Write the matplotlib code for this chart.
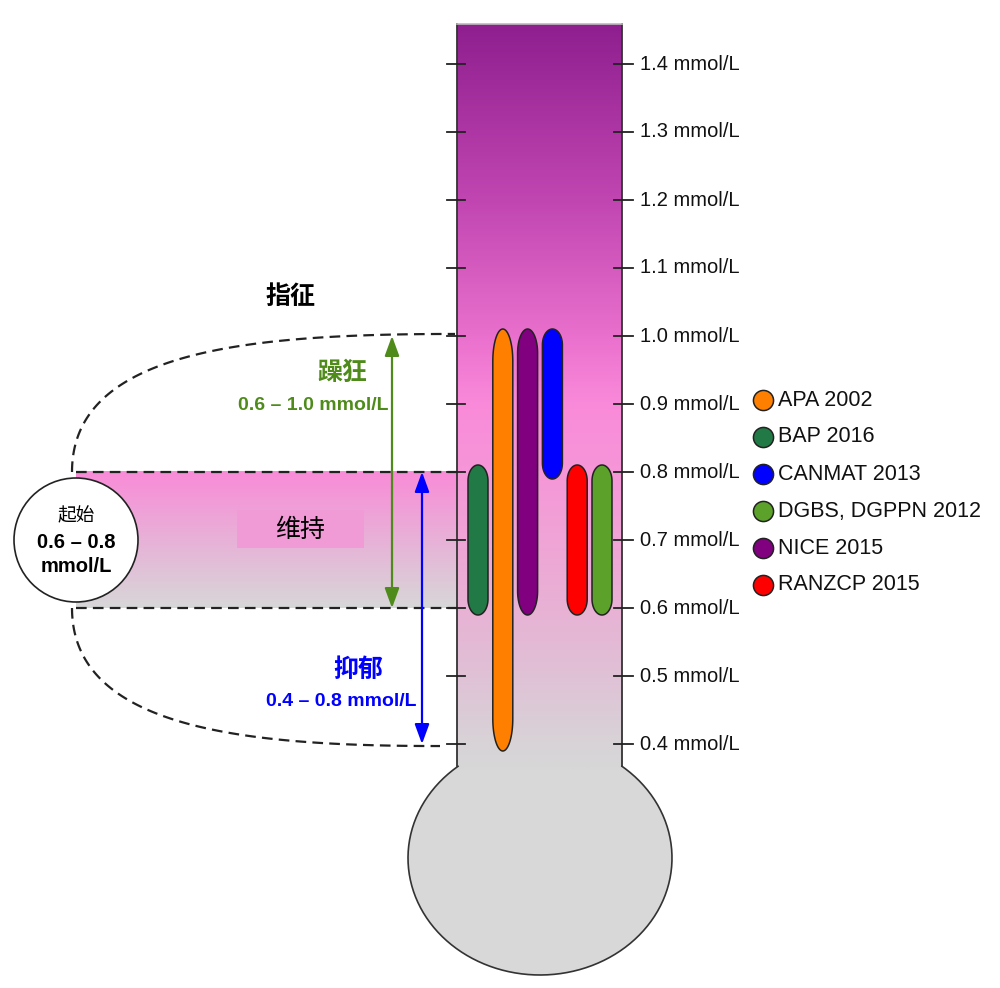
import numpy as np
import matplotlib
matplotlib.use('Agg')
import matplotlib.pyplot as plt
from matplotlib.patches import Ellipse, Polygon, Rectangle
from matplotlib.colors import LinearSegmentedColormap

plt.rcParams['font.family'] = ['Liberation Sans', 'Noto Sans CJK SC']

# guideline target ranges (mmol/L)
guidelines = ['APA 2002', 'BAP 2016', 'CANMAT 2013', 'DGBS, DGPPN 2012', 'NICE 2015', 'RANZCP 2015']
range_low = [0.4, 0.6, 0.8, 0.6, 0.6, 0.6]
range_high = [1.0, 0.8, 1.0, 0.8, 1.0, 0.8]
guide_colors = ['#FF8000', '#217A45', '#0000FF', '#5CA22A', '#800080', '#FF0000']
# left-to-right order of the bars inside the tube
bar_order = ['BAP 2016', 'APA 2002', 'NICE 2015', 'CANMAT 2013', 'RANZCP 2015', 'DGBS, DGPPN 2012']

tick_values = [0.4, 0.5, 0.6, 0.7, 0.8, 0.9, 1.0, 1.1, 1.2, 1.3, 1.4]

mania_range = (0.6, 1.0)
depression_range = (0.4, 0.8)
maintenance_range = (0.6, 0.8)

PX = 1 / 680.0  # mmol/L per pixel


def yv(p):
    # pixel row -> mmol/L position
    return 0.4 + (744 - p) * PX


def bezier(p0, p1, p2, p3, n=100):
    t = np.linspace(0, 1, n)[:, None]
    pts = ((1 - t) ** 3) * np.array(p0) + 3 * ((1 - t) ** 2) * t * np.array(p1) \
        + 3 * (1 - t) * t ** 2 * np.array(p2) + t ** 3 * np.array(p3)
    return pts[:, 0], pts[:, 1]


def capsule(xc, lo, hi, w=20):
    lo = lo - 7 * PX
    hi = hi + 7 * PX
    ry = (7 + 0.06 * (hi - lo) / PX) * PX
    th = np.linspace(0, np.pi, 40)
    top = np.column_stack([xc + w / 2 * np.cos(th), hi - ry + ry * np.sin(th)])
    th = np.linspace(np.pi, 2 * np.pi, 40)
    bot = np.column_stack([xc + w / 2 * np.cos(th), lo + ry + ry * np.sin(th)])
    return np.vstack([top, bot])


fig = plt.figure(figsize=(10, 9.88), dpi=100)
ax = fig.add_axes([0, 0, 1, 1])

# thermometer bulb
bulb_c = (540, yv(858))
ax.add_patch(Ellipse(bulb_c, 264, 234 * PX, facecolor='#D8D8D8', edgecolor='none', zorder=1))
t = np.radians(np.linspace(128.4, 411.6, 300))
ax.plot(bulb_c[0] + 132 * np.cos(t), bulb_c[1] + 117 * PX * np.sin(t), color='#333333', lw=1.2, zorder=3)

# tube with gradient
tube_stops = [(0.362, (215, 215, 215)), (0.4, (216, 211, 215)), (0.5, (224, 193, 214)),
              (0.6, (232, 177, 212)), (0.7, (240, 164, 214)), (0.8, (246, 150, 216)),
              (0.9, (250, 138, 218)), (1.0, (234, 112, 205)), (1.2, (193, 70, 178)),
              (1.459, (143, 31, 143))]
lo_t, hi_t = tube_stops[0][0], tube_stops[-1][0]
cmap = LinearSegmentedColormap.from_list(
    'tube', [((v - lo_t) / (hi_t - lo_t), tuple(c / 255 for c in col)) for v, col in tube_stops])
grad = np.linspace(0, 1, 400)[:, None]
ax.imshow(grad, extent=[457, 622, lo_t, hi_t], origin='lower', aspect='auto', cmap=cmap, zorder=2)
ax.plot([457, 457], [yv(766), hi_t], color='#333333', lw=1.3, zorder=3)
ax.plot([622, 622], [yv(766), hi_t], color='#333333', lw=1.3, zorder=3)
ax.plot([457, 622], [hi_t, hi_t], color='#BBBBBB', lw=1.2, zorder=3)

# maintenance band
band_cmap = LinearSegmentedColormap.from_list('band', ['#D7D7D7', '#F98BD8'])
ax.imshow(grad, extent=[76, 457, maintenance_range[0], maintenance_range[1]], origin='lower',
          aspect='auto', cmap=band_cmap, zorder=1)
ax.add_patch(Rectangle((237, yv(548)), 127, 38 * PX, facecolor='#F09AD6', edgecolor='none', zorder=2))
ax.text(300, yv(530), '维持', ha='center', va='center', fontsize=18, zorder=4)

dash = (0, (4.8, 2.8))
for v in maintenance_range:
    ax.plot([76, 457], [v, v], color='#222222', lw=1.6, linestyle=dash, zorder=3)

# indication outline
xs, ys = bezier((72, 0.8), (72, 0.98), (250, 1.003), (455, 1.003))
ax.plot(xs, ys, color='#222222', lw=1.6, linestyle=dash, zorder=3)
xs, ys = bezier((72, 0.6), (72, 0.42), (250, 0.397), (440, 0.397))
ax.plot(xs, ys, color='#222222', lw=1.6, linestyle=dash, zorder=3)

# start circle
ax.add_patch(Ellipse((76, 0.7), 124, 124 * PX, facecolor='white', edgecolor='#222222', lw=1.2, zorder=5))
ax.text(76, yv(517), '起始', ha='center', va='center', fontsize=13.5, zorder=6)
ax.text(76, yv(543), '0.6 – 0.8', ha='center', va='center', fontsize=14.5, weight='bold', zorder=6)
ax.text(76, yv(566), 'mmol/L', ha='center', va='center', fontsize=14.5, weight='bold', zorder=6)

ax.text(291, yv(297), '指征', ha='center', va='center', fontsize=18, weight='bold')

# mania / depression arrows
green = '#4E8B1A'
ax.annotate('', xy=(392, mania_range[1]), xytext=(392, mania_range[0]),
            arrowprops=dict(arrowstyle='<|-|>,head_length=0.6,head_width=0.22', color=green,
                            lw=1.6, mutation_scale=20, shrinkA=0, shrinkB=0), zorder=4)
ax.text(342, yv(373), '躁狂', ha='center', va='center', fontsize=18, color=green, weight='bold')
ax.text(313, yv(406), '0.6 – 1.0 mmol/L', ha='center', va='center', fontsize=14, color=green, weight='bold')

ax.annotate('', xy=(422, depression_range[1]), xytext=(422, depression_range[0]),
            arrowprops=dict(arrowstyle='<|-|>,head_length=0.6,head_width=0.22', color='#0000FF',
                            lw=1.6, mutation_scale=20, shrinkA=0, shrinkB=0), zorder=4)
ax.text(358, yv(670), '抑郁', ha='center', va='center', fontsize=18, color='#0000FF', weight='bold')
ax.text(341, yv(701), '0.4 – 0.8 mmol/L', ha='center', va='center', fontsize=14, color='#0000FF', weight='bold')

# scale ticks
for v in tick_values:
    ax.plot([447, 465], [v, v], color='#222222', lw=1.3, zorder=3)
    ax.plot([614, 633], [v, v], color='#222222', lw=1.3, zorder=3)
    ax.text(640, v, f'{v:.1f} mmol/L', va='center', ha='left', fontsize=14.5, color='#111111')

# guideline bars
for i, name in enumerate(bar_order):
    k = guidelines.index(name)
    pts = capsule(478 + 24.8 * i, range_low[k], range_high[k])
    ax.add_patch(Polygon(pts, closed=True, facecolor=guide_colors[k], edgecolor='#222222', lw=1.1, zorder=4))

# legend
for i, name in enumerate(guidelines):
    y = yv(400 + 37 * i)
    ax.scatter([763], [y], s=210, color=guide_colors[i], edgecolor='#222222', linewidth=1.1, zorder=5)
    ax.text(778, y, name, va='center', ha='left', fontsize=15.5, color='#111111')

ax.set_xlim(0, 1000)
ax.set_ylim(yv(988), yv(0))
ax.axis('off')
fig.savefig('out.png', dpi=100)
